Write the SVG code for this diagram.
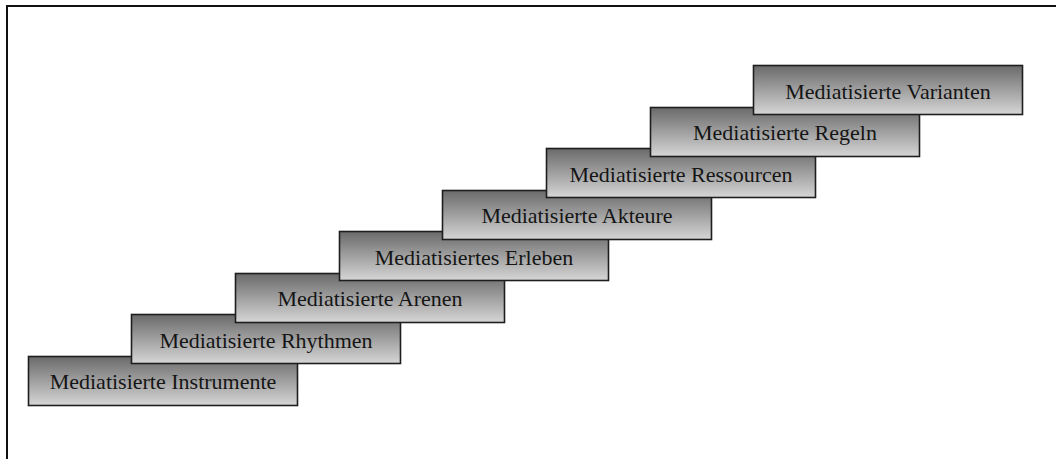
<svg xmlns="http://www.w3.org/2000/svg" width="1056" height="459" viewBox="0 0 1056 459">
  <defs>
    <linearGradient id="stepFill" x1="0" y1="0" x2="0" y2="1">
      <stop offset="0" stop-color="#6a6a6a"/>
      <stop offset="1" stop-color="#d6d6d6"/>
    </linearGradient>
    <style>
      .step rect { fill: url(#stepFill); stroke: #1e1e1e; stroke-width: 1.6; }
      .step text { font-family: "Liberation Serif", "Times New Roman", serif; font-size: 22px; fill: #151515; text-anchor: middle; }
      .frame { stroke: #111; stroke-width: 2; fill: none; }
    </style>
  </defs>

  <rect width="1056" height="459" fill="#fff"/>
  <!-- open frame: top and left edges only -->
  <path class="frame" d="M7,459 V6 H1056"/>

  <!-- staircase, bottom step first so each higher step overlaps the one below -->
  <g id="step-instrumente" class="step">
    <rect x="28.5" y="356.5" width="269" height="49"/>
    <text x="163" y="389">Mediatisierte Instrumente</text>
  </g>
  <g id="step-rhythmen" class="step">
    <rect x="131.5" y="314.5" width="269" height="49"/>
    <text x="266" y="348">Mediatisierte Rhythmen</text>
  </g>
  <g id="step-arenen" class="step">
    <rect x="235.5" y="273.5" width="269" height="49"/>
    <text x="370" y="306">Mediatisierte Arenen</text>
  </g>
  <g id="step-erleben" class="step">
    <rect x="339.5" y="231.5" width="269" height="49"/>
    <text x="474" y="265">Mediatisiertes Erleben</text>
  </g>
  <g id="step-akteure" class="step">
    <rect x="442.5" y="190.5" width="269" height="49"/>
    <text x="577" y="223">Mediatisierte Akteure</text>
  </g>
  <g id="step-ressourcen" class="step">
    <rect x="546.5" y="148.5" width="269" height="49"/>
    <text x="681" y="182">Mediatisierte Ressourcen</text>
  </g>
  <g id="step-regeln" class="step">
    <rect x="650.5" y="107.5" width="269" height="49"/>
    <text x="785" y="140">Mediatisierte Regeln</text>
  </g>
  <g id="step-varianten" class="step">
    <rect x="753.5" y="65.5" width="269" height="49"/>
    <text x="888" y="99">Mediatisierte Varianten</text>
  </g>

  <!-- no connectors in this diagram -->
  <g id="connectors"/>
</svg>
